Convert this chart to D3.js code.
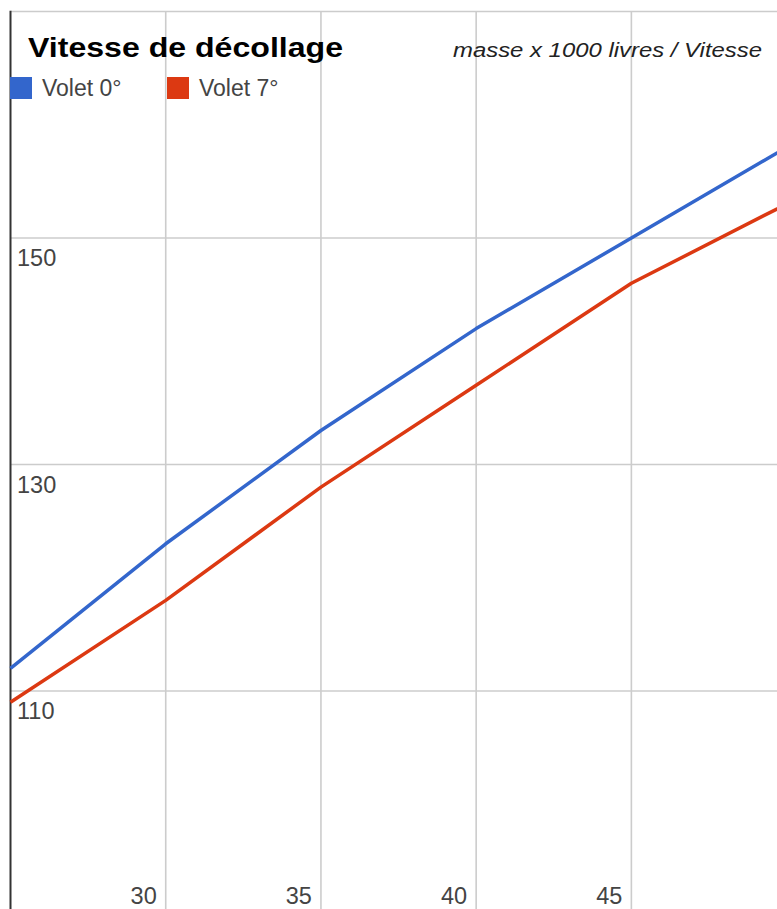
<!DOCTYPE html>
<html><head><meta charset="utf-8">
<script src="https://cdn.jsdelivr.net/npm/d3@7"></script>
<style>html,body{margin:0;padding:0;background:#fff;overflow:hidden}svg{display:block}</style>
</head><body>
<svg id="c" width="777" height="909"></svg>
<script>
const masses = [25, 30, 35, 40, 45, 50];
const volet0 = [112, 123, 133, 142, 150, 158];
const volet7 = [109, 118, 128, 137, 146, 153];
const seriesNames = ["Volet 0°", "Volet 7°"];
const seriesColors = ["#3366cc", "#dc3912"];
const xGrid = [30, 35, 40, 45, 50];
const xTicks = [30, 35, 40, 45];
const yTicks = [110, 130, 150];
const yGrid = [90, 110, 130, 150, 170];
const title = "Vitesse de décollage";
const subtitle = "masse x 1000 livres / Vitesse";

const svg = d3.select("#c");
const x = d3.scaleLinear().domain([25, 50]).range([10.5, 786.6]);
const y = d3.scaleLinear().domain([90, 170]).range([917.5, 11.5]);
const font = "'Liberation Sans', Arial, sans-serif";

// gridlines
svg.append("g").selectAll("line").data(xGrid).join("line")
  .attr("x1", d => x(d)).attr("x2", d => x(d)).attr("y1", y(170)).attr("y2", 909)
  .attr("stroke", "#cccccc").attr("stroke-width", 1.6);
svg.append("g").selectAll("line").data(yGrid).join("line")
  .attr("x1", x(25)).attr("x2", 777).attr("y1", d => y(d)).attr("y2", d => y(d))
  .attr("stroke", "#cccccc").attr("stroke-width", 1.6);

// left axis line
svg.append("line").attr("x1", x(25)).attr("x2", x(25)).attr("y1", y(170) - 0.8).attr("y2", 909)
  .attr("stroke", "#333").attr("stroke-width", 2);

// tick labels
svg.append("g").selectAll("text").data(yTicks).join("text")
  .attr("x", 17).attr("y", d => y(d) + 28)
  .attr("font-family", font).attr("font-size", 23.5).attr("fill", "#444")
  .text(d => d);
svg.append("g").selectAll("text").data(xTicks).join("text")
  .attr("x", d => x(d) - 9).attr("y", 904).attr("text-anchor", "end")
  .attr("font-family", font).attr("font-size", 23.5).attr("fill", "#444")
  .text(d => d);

// lines
const series = [volet0, volet7];
const line = d3.line().x((d, i) => x(masses[i])).y(d => y(d));
svg.append("g").selectAll("path").data(series).join("path")
  .attr("d", d => line(d)).attr("fill", "none")
  .attr("stroke", (d, i) => seriesColors[i]).attr("stroke-width", 3.5)
  .attr("stroke-linejoin", "round");

// title
svg.append("text").attr("x", 28).attr("y", 57)
  .attr("font-family", font).attr("font-weight", "bold").attr("font-size", 28)
  .attr("textLength", 315).attr("lengthAdjust", "spacingAndGlyphs")
  .attr("fill", "#000").text(title);
svg.append("text").attr("x", 453).attr("y", 57)
  .attr("font-family", font).attr("font-style", "italic").attr("font-size", 20)
  .attr("textLength", 309).attr("lengthAdjust", "spacingAndGlyphs")
  .attr("fill", "#222").text(subtitle);

// legend
const legX = [10, 167];
const leg = svg.append("g").selectAll("g").data(seriesNames).join("g")
  .attr("transform", (d, i) => `translate(${legX[i]},77)`);
leg.append("rect").attr("width", 22).attr("height", 22).attr("fill", (d, i) => seriesColors[i]);
leg.append("text").attr("x", 32).attr("y", 19)
  .attr("font-family", font).attr("font-size", 23).attr("fill", "#444").text(d => d);
</script>
</body></html>
